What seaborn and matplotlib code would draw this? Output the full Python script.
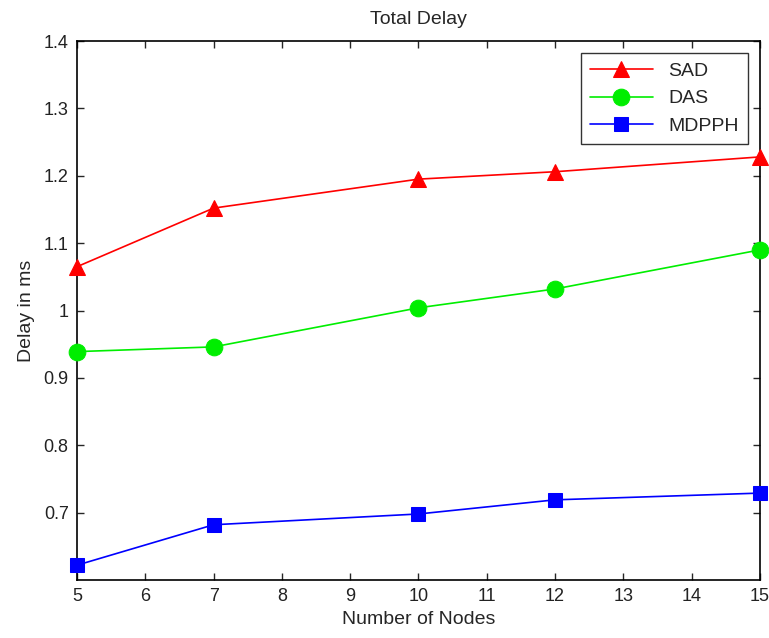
import pandas as pd
import matplotlib
matplotlib.use("Agg")
import matplotlib.pyplot as plt
import seaborn as sns

# Data
nodes = [5, 7, 10, 12, 15]
sad = [1.065, 1.152, 1.195, 1.206, 1.228]
das = [0.939, 0.946, 1.004, 1.032, 1.090]
mdpph = [0.622, 0.682, 0.698, 0.719, 0.729]

df = pd.DataFrame({
    "Nodes": nodes * 3,
    "Delay": sad + das + mdpph,
    "Scheme": ["SAD"] * 5 + ["DAS"] * 5 + ["MDPPH"] * 5,
})

sns.set_style("ticks")
plt.rcParams["font.family"] = ["Liberation Sans Narrow", "Liberation Sans", "DejaVu Sans"]

fig = plt.figure(figsize=(7.69, 6.38), dpi=100)
ax = fig.add_axes([0.1001, 0.0909, 0.8882, 0.8448])

styles = {
    "SAD": ("#ff0000", "^", 12),
    "DAS": ("#00ee00", "o", 12),
    "MDPPH": ("#0000ff", "s", 10),
}
for name, (col, mk, ms) in styles.items():
    sub = df[df["Scheme"] == name]
    sns.lineplot(
        data=sub, x="Nodes", y="Delay", ax=ax,
        color=col, marker=mk, markersize=ms,
        markeredgecolor=col, linewidth=1.2, label=name,
        clip_on=False, zorder=3
    )

ax.set_xlim(5, 15)
ax.set_ylim(0.6, 1.4)
ax.set_xticks(range(5, 16))
ax.set_yticks([0.7, 0.8, 0.9, 1.0, 1.1, 1.2, 1.3, 1.4])
ax.set_yticklabels(["0.7", "0.8", "0.9", "1", "1.1", "1.2", "1.3", "1.4"])
ax.tick_params(direction="in", length=5, width=1, top=True, right=True,
               labelsize=13, pad=6, labelcolor="#222222")
for s in ax.spines.values():
    s.set_linewidth(1.2)
    s.set_color("black")

ax.set_title("Total Delay", fontsize=14, pad=12)
ax.set_xlabel("Number of Nodes", fontsize=14, labelpad=4)
ax.set_ylabel("Delay in ms", fontsize=14, labelpad=6)

leg = ax.legend(loc="upper right", fontsize=14, frameon=True, fancybox=False,
                edgecolor="black", borderaxespad=0.6, handlelength=3.2,
                labelspacing=0.5, borderpad=0.5)
leg.get_frame().set_linewidth(1.0)

fig.savefig("out.png", dpi=100)
